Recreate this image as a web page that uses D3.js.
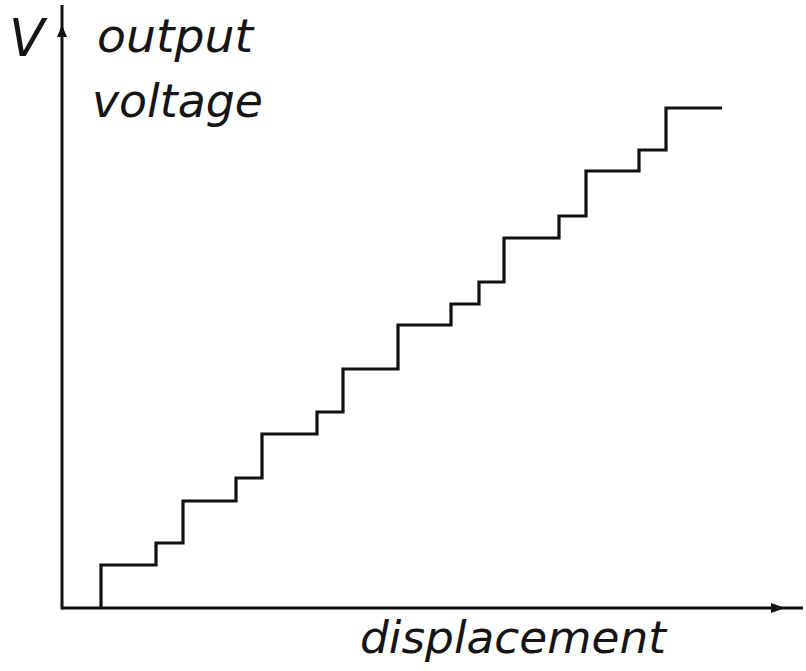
<!DOCTYPE html>
<html>
<head>
<meta charset="utf-8">
<script src="https://cdn.jsdelivr.net/npm/d3@7"></script>
<style>
html,body{margin:0;padding:0;background:#fff;}
svg{display:block;}
text{font-family:"DejaVu Sans",sans-serif;font-style:italic;fill:#151515;}
</style>
</head>
<body>
<svg id="chart" width="806" height="671"></svg>
<script>
// Step rise positions (displacement units) and output levels (voltage units)
const riseX = [3.9, 9.4, 12.1, 17.4, 20.0, 25.5, 28.1, 33.6, 38.9, 41.7, 44.2, 49.7, 52.4, 57.7, 60.4];
const levels = [4.3, 6.5, 10.7, 13.0, 17.4, 19.6, 23.9, 28.3, 30.4, 32.6, 37.0, 39.2, 43.7, 45.8, 50.0];
const endX = 66.0;
const xDomain = [0, 74.1];
const yDomain = [0, 60.3];
const labels = {yShort: "V", yLine1: "output", yLine2: "voltage", x: "displacement"};

const svg = d3.select("#chart");
const x = d3.scaleLinear().domain(xDomain).range([62, 803]);
const y = d3.scaleLinear().domain(yDomain).range([608, 5]);
const ink = "#111";

// axes
svg.append("line").attr("x1", x(0)).attr("x2", x(xDomain[1])).attr("y1", y(0)).attr("y2", y(0))
  .attr("stroke", ink).attr("stroke-width", 3);
svg.append("line").attr("x1", x(0)).attr("x2", x(0)).attr("y1", y(0) + 1.5).attr("y2", y(yDomain[1]))
  .attr("stroke", ink).attr("stroke-width", 3);

// arrowheads
const ax = x(xDomain[1]) - 20, ay = y(yDomain[1]) + 20;
svg.append("path").attr("d", `M${ax+2},${y(0)} L${ax-12},${y(0)-5} L${ax-12},${y(0)+5} Z`).attr("fill", ink);
svg.append("path").attr("d", `M${x(0)},${ay} L${x(0)-5},${ay+12} L${x(0)+5},${ay+12} Z`).attr("fill", ink);

// staircase
const pts = [[riseX[0], 0]].concat(riseX.map((r, i) => [r, levels[i]])).concat([[endX, levels[levels.length-1]]]);
const line = d3.line().x(d => x(d[0])).y(d => y(d[1])).curve(d3.curveStepAfter);
svg.append("path").datum(pts).attr("d", line).attr("fill", "none")
  .attr("stroke", ink).attr("stroke-width", 3.2).attr("stroke-linejoin", "miter").attr("stroke-linecap", "butt");

// labels
svg.append("text").attr("x", 9).attr("y", 56).attr("font-size", 52).text(labels.yShort);
svg.append("text").attr("x", 97).attr("y", 52).attr("font-size", 46)
  .attr("textLength", 156).attr("lengthAdjust", "spacingAndGlyphs").text(labels.yLine1);
svg.append("text").attr("x", 92).attr("y", 117).attr("font-size", 46)
  .attr("textLength", 171).attr("lengthAdjust", "spacingAndGlyphs").text(labels.yLine2);
svg.append("text").attr("x", 360).attr("y", 653).attr("font-size", 45)
  .attr("textLength", 306).attr("lengthAdjust", "spacingAndGlyphs").text(labels.x);
</script>
</body>
</html>
